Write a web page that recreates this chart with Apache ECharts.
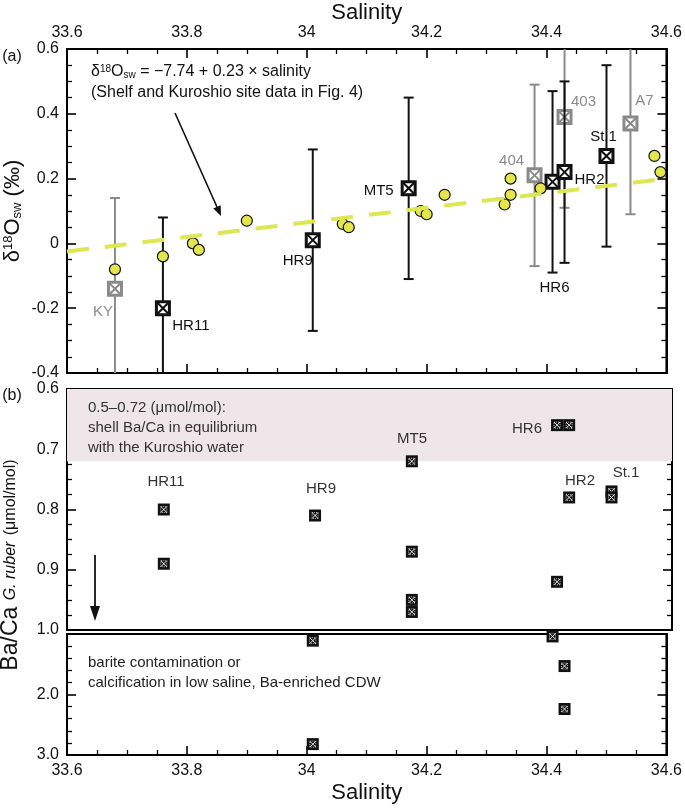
<!DOCTYPE html>
<html>
<head>
<meta charset="utf-8">
<script src="https://cdn.jsdelivr.net/npm/echarts@6/dist/echarts.min.js"></script>
<style>
  html, body { margin: 0; padding: 0; background: #fff; }
  #main { width: 685px; height: 808px; }
</style>
</head>
<body>
<div id="main"></div>
<script>
// panel (a): shelf and Kuroshio site data (yellow circles)
var siteSal = [33.68, 33.76, 33.81, 33.82, 33.90, 34.06, 34.07, 34.19, 34.20, 34.23, 34.33, 34.34, 34.34, 34.39, 34.58, 34.59];
var siteD18 = [-0.08, -0.04, 0.00, -0.02, 0.07, 0.06, 0.05, 0.10, 0.09, 0.15, 0.12, 0.15, 0.20, 0.17, 0.27, 0.22];

// regression line end points, as drawn
var fitSal = [33.6, 34.6];
var fitD18 = [-0.025, 0.20];

// stations (black)
var stName = ['HR11', 'HR9', 'MT5', 'HR6', 'HR2', 'St.1'];
var stSal = [33.76, 34.01, 34.17, 34.41, 34.43, 34.50];
var stD18 = [-0.20, 0.01, 0.17, 0.19, 0.22, 0.27];
var stErr = [0.28, 0.28, 0.28, 0.28, 0.28, 0.28];

// other stations (grey)
var refName = ['KY', '404', '403', 'A7'];
var refSal = [33.68, 34.38, 34.43, 34.54];
var refD18 = [-0.14, 0.21, 0.39, 0.37];
var refErr = [0.28, 0.28, 0.28, 0.28];

// panel (b): Ba/Ca of G. ruber, values <= 1.0
var baSal = [33.76, 33.76, 34.01, 34.17, 34.17, 34.17, 34.17, 34.41, 34.43, 34.41, 34.43, 34.50, 34.50];
var baVal = [0.80, 0.89, 0.81, 0.72, 0.87, 0.95, 0.97, 0.66, 0.66, 0.92, 0.78, 0.77, 0.78];
// values > 1.0 (lower, compressed part of the axis)
var baHiSal = [34.01, 34.01, 34.41, 34.43, 34.43];
var baHiVal = [1.11, 2.82, 1.04, 1.53, 2.24];

// Ba/Ca in equilibrium with the Kuroshio water
var bandRange = [0.6, 0.72];

var FONT = "'Liberation Sans', Arial, Helvetica, sans-serif";
var GREY = '#8a8a8a';

// label offsets (px) from each station marker
var labelOffset = {
    'HR11': [28, 18], 'HR9': [-15, 21], 'MT5': [-30, 3], 'HR6': [2, 106],
    'HR2': [25, 8], 'St.1': [-3, -19], 'KY': [-12, 23], '404': [-23, -15],
    '403': [19, -15], 'A7': [14, -23]
};

function zip(a, b, c) {
    return a.map(function (v, i) { return c ? [v, b[i], c[i]] : [v, b[i]]; });
}

function stationRenderer(names, color) {
    return function (params, api) {
        var s = api.value(0), v = api.value(1), e = api.value(2);
        var p = api.coord([s, v]);
        var hi = api.coord([s, v + e]);
        var lo = api.coord([s, v - e]);
        var name = names[params.dataIndex];
        var off = labelOffset[name];
        var h = 6.5;
        var ln = function (x1, y1, x2, y2, w) {
            return { type: 'line', shape: { x1: x1, y1: y1, x2: x2, y2: y2 }, style: { stroke: color, lineWidth: w } };
        };
        return {
            type: 'group',
            children: [
                ln(p[0], hi[1], p[0], lo[1], 2),
                ln(p[0] - 5, hi[1], p[0] + 5, hi[1], 2),
                ln(p[0] - 5, lo[1], p[0] + 5, lo[1], 2),
                { type: 'rect', shape: { x: p[0] - h, y: p[1] - h, width: 2 * h, height: 2 * h },
                  style: { fill: '#fff', stroke: color, lineWidth: 3 } },
                ln(p[0] - h, p[1] - h, p[0] + h, p[1] + h, 2),
                ln(p[0] - h, p[1] + h, p[0] + h, p[1] - h, 2),
                { type: 'text', x: p[0] + off[0], y: p[1] + off[1],
                  style: { text: name, fill: color, font: '15px ' + FONT, align: 'center', verticalAlign: 'middle' } }
            ]
        };
    };
}

function baRenderer(params, api) {
    var p = api.coord([api.value(0), api.value(1)]);
    var h = 6, k = 3;
    return {
        type: 'group',
        children: [
            { type: 'rect', shape: { x: p[0] - h, y: p[1] - h, width: 2 * h, height: 2 * h }, style: { fill: '#111' } },
            { type: 'rect', shape: { x: p[0] - k, y: p[1] - k, width: 2 * k, height: 2 * k },
              style: { fill: null, stroke: '#fff', lineWidth: 0.7, lineDash: [1, 1] } },
            { type: 'line', shape: { x1: p[0] - k, y1: p[1] - k, x2: p[0] + k, y2: p[1] + k }, style: { stroke: '#fff', lineWidth: 0.9 } },
            { type: 'line', shape: { x1: p[0] - k, y1: p[1] + k, x2: p[0] + k, y2: p[1] - k }, style: { stroke: '#fff', lineWidth: 0.9 } }
        ]
    };
}

// every axis here has its ticks on; the frame edges without ticks come from the grid border
function xAx(grid, pos, labels, name) {
    var ax = {
        type: 'value', gridIndex: grid, position: pos,
        min: 33.6, max: 34.6, interval: 0.2,
        axisLine: { show: true, onZero: false, lineStyle: { color: '#000', width: 2 } },
        axisTick: { show: true, inside: true, length: 9, lineStyle: { color: '#000', width: 1.6 } },
        minorTick: { show: true, splitNumber: 4, length: 5, lineStyle: { color: '#000', width: 1.3 } },
        splitLine: { show: false },
        axisLabel: { show: labels, fontSize: 16, color: '#111', fontFamily: FONT, margin: 8 }
    };
    if (name) {
        ax.name = name;
        ax.nameLocation = 'middle';
        ax.nameGap = pos === 'top' ? 22 : 27;
        ax.nameTextStyle = { fontSize: 22, color: '#111', fontFamily: FONT };
    }
    return ax;
}

function yAx(grid, pos, min, max, iv, split, labels, fmt) {
    var label = { show: labels, fontSize: 16, color: '#111', fontFamily: FONT, margin: 8 };
    if (fmt) label.formatter = fmt;
    return {
        type: 'value', gridIndex: grid, position: pos,
        min: min, max: max, interval: iv, inverse: grid > 0,
        axisLine: { show: true, onZero: false, lineStyle: { color: '#000', width: 2 } },
        axisTick: { show: true, inside: true, length: 9, lineStyle: { color: '#000', width: 1.6 } },
        minorTick: { show: true, splitNumber: split, length: 5, lineStyle: { color: '#000', width: 1.3 } },
        splitLine: { show: false },
        axisLabel: label
    };
}

var fix1 = function (v) { return v.toFixed(1); };
// lower Ba/Ca part: its 1.0 is already labelled by the upper part
var fixLow = function (v) { return v === 1 ? '' : v.toFixed(1); };

var chart = echarts.init(document.getElementById('main'));

var graphics = [
    // y-axis titles
    { type: 'text', x: 13, y: 211, rotation: Math.PI / 2,
      style: { text: 'δ{sup|18}O{sub|sw} (‰)', font: '22px ' + FONT, fill: '#111', align: 'center', verticalAlign: 'middle',
               rich: { sup: { fontSize: 13, fontFamily: FONT, verticalAlign: 'top', padding: [0, 0, 8, 0] },
                       sub: { fontSize: 13, fontFamily: FONT, verticalAlign: 'bottom', padding: [4, 0, 0, 0] } } } },
    { type: 'text', x: 11, y: 565, rotation: Math.PI / 2,
      style: { text: 'Ba/Ca {it|G. ruber} {sm|(μmol/mol)}', font: '23px ' + FONT, fill: '#111', align: 'center', verticalAlign: 'middle',
               rich: { it: { fontSize: 16, fontStyle: 'italic', fontFamily: FONT },
                       sm: { fontSize: 16, fontFamily: FONT } } } },
    // panel letters
    { type: 'text', x: 12, y: 57, style: { text: '(a)', font: '16px ' + FONT, fill: '#111', align: 'center', verticalAlign: 'middle' } },
    { type: 'text', x: 12, y: 396, style: { text: '(b)', font: '16px ' + FONT, fill: '#111', align: 'center', verticalAlign: 'middle' } },
    // regression annotation
    { type: 'text', x: 91, y: 72,
      style: { text: 'δ{sup|18}O{sub|sw} = −7.74 + 0.23 × salinity', font: '16px ' + FONT, fill: '#111', verticalAlign: 'middle',
               rich: { sup: { fontSize: 10, fontFamily: FONT, verticalAlign: 'top', padding: [0, 0, 6, 0] },
                       sub: { fontSize: 10, fontFamily: FONT, verticalAlign: 'bottom', padding: [3, 0, 0, 0] } } } },
    { type: 'text', x: 91, y: 93,
      style: { text: '(Shelf and Kuroshio site data in Fig. 4)', font: '16px ' + FONT, fill: '#111', verticalAlign: 'middle' } },
    { type: 'line', shape: { x1: 175, y1: 113, x2: 217, y2: 207 }, style: { stroke: '#111', lineWidth: 1.6 } },
    { type: 'polygon', shape: { points: [[221, 216], [220.7, 205.3], [213.3, 208.5]] }, style: { fill: '#111' } },
    // panel (b) annotations
    { type: 'text', x: 88, y: 408, style: { text: '0.5–0.72 (μmol/mol):', font: '15px ' + FONT, fill: '#333', verticalAlign: 'middle' } },
    { type: 'text', x: 88, y: 428, style: { text: 'shell Ba/Ca in equilibrium', font: '15px ' + FONT, fill: '#333', verticalAlign: 'middle' } },
    { type: 'text', x: 88, y: 448, style: { text: 'with the Kuroshio water', font: '15px ' + FONT, fill: '#333', verticalAlign: 'middle' } },
    { type: 'text', x: 88, y: 663, style: { text: 'barite contamination or', font: '15px ' + FONT, fill: '#222', verticalAlign: 'middle' } },
    { type: 'text', x: 88, y: 683, style: { text: 'calcification in low saline, Ba-enriched CDW', font: '15px ' + FONT, fill: '#222', verticalAlign: 'middle' } },
    { type: 'line', shape: { x1: 95, y1: 555, x2: 95, y2: 608 }, style: { stroke: '#111', lineWidth: 1.8 } },
    { type: 'polygon', shape: { points: [[95, 621], [90, 606], [100, 606]] }, style: { fill: '#111' } },
    // station names in panel (b)
    { type: 'text', x: 166, y: 482, style: { text: 'HR11', font: '15px ' + FONT, fill: '#333', align: 'center', verticalAlign: 'middle' } },
    { type: 'text', x: 321, y: 489, style: { text: 'HR9', font: '15px ' + FONT, fill: '#333', align: 'center', verticalAlign: 'middle' } },
    { type: 'text', x: 412, y: 439, style: { text: 'MT5', font: '15px ' + FONT, fill: '#333', align: 'center', verticalAlign: 'middle' } },
    { type: 'text', x: 527, y: 429, style: { text: 'HR6', font: '15px ' + FONT, fill: '#333', align: 'center', verticalAlign: 'middle' } },
    { type: 'text', x: 580, y: 481, style: { text: 'HR2', font: '15px ' + FONT, fill: '#333', align: 'center', verticalAlign: 'middle' } },
    { type: 'text', x: 626, y: 473, style: { text: 'St.1', font: '15px ' + FONT, fill: '#333', align: 'center', verticalAlign: 'middle' } }
];
graphics.forEach(function (g) { g.z = 100; });

var frame = { show: true, borderColor: '#000', borderWidth: 2, backgroundColor: 'transparent' };

var option = {
    animation: false,
    backgroundColor: '#fff',
    grid: [
        Object.assign({ left: 67, right: 13, top: 49, height: 324 }, frame),
        Object.assign({ left: 67, right: 13, top: 389, height: 241 }, frame),
        Object.assign({ left: 67, right: 13, top: 634, height: 121 }, frame)
    ],
    xAxis: [
        xAx(0, 'top', true, 'Salinity'),
        xAx(0, 'bottom', false),
        xAx(1, 'top', false),
        xAx(2, 'bottom', true, 'Salinity')
    ],
    yAxis: [
        yAx(0, 'left', -0.4, 0.6, 0.2, 4, true),
        yAx(0, 'right', -0.4, 0.6, 0.2, 4, false),
        yAx(1, 'left', 0.6, 1.0, 0.1, 4, true, fix1),
        yAx(1, 'right', 0.6, 1.0, 0.1, 4, false),
        yAx(2, 'left', 1, 3, 1, 5, true, fixLow),
        yAx(2, 'right', 1, 3, 1, 5, false)
    ],
    series: [
        {
            type: 'line', xAxisIndex: 0, yAxisIndex: 0,
            data: zip(fitSal, fitD18), symbol: 'none',
            lineStyle: { color: '#dde653', width: 4, type: [22, 16] }
        },
        {
            type: 'scatter', xAxisIndex: 0, yAxisIndex: 0,
            data: zip(siteSal, siteD18), symbol: 'circle', symbolSize: 11,
            itemStyle: { color: '#e4e64e', borderColor: '#111', borderWidth: 1.2, opacity: 1 }
        },
        {
            type: 'custom', xAxisIndex: 0, yAxisIndex: 0, clip: true,
            data: zip(refSal, refD18, refErr),
            renderItem: stationRenderer(refName, GREY)
        },
        {
            type: 'custom', xAxisIndex: 0, yAxisIndex: 0, clip: true,
            data: zip(stSal, stD18, stErr),
            renderItem: stationRenderer(stName, '#111')
        },
        {
            type: 'line', xAxisIndex: 2, yAxisIndex: 2, data: [], z: -1,
            markArea: {
                silent: true,
                itemStyle: { color: '#eee6e8' },
                data: [[{ yAxis: bandRange[0] }, { yAxis: bandRange[1] }]]
            }
        },
        {
            type: 'custom', xAxisIndex: 2, yAxisIndex: 2, z: 3,
            data: zip(baSal, baVal), renderItem: baRenderer
        },
        {
            type: 'custom', xAxisIndex: 3, yAxisIndex: 4, z: 3,
            data: zip(baHiSal, baHiVal), renderItem: baRenderer
        }
    ],
    graphic: graphics
};

chart.setOption(option);
</script>
</body>
</html>
